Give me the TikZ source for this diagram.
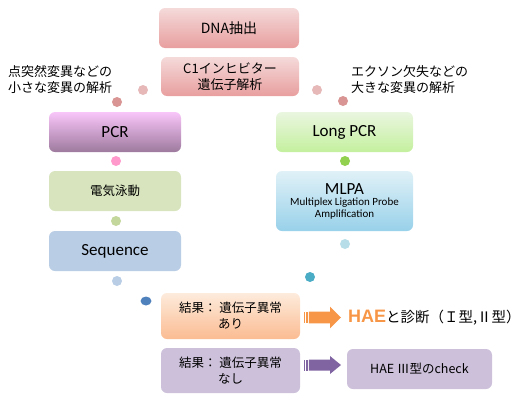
\documentclass[tikz,border=0pt]{standalone}
\usepackage{fontspec}
\setmainfont{Carlito}
\newfontfamily\jp{Noto Sans CJK JP}
\newfontfamily\haefont{Liberation Sans}
\usetikzlibrary{shapes, positioning}

\definecolor{dnaTop}{RGB}{245,218,218}
\definecolor{dnaBot}{RGB}{232,158,158}
\definecolor{pcrTop}{RGB}{249,198,249}
\definecolor{pcrBot}{RGB}{158,122,158}
\definecolor{lpcrTop}{RGB}{234,246,224}
\definecolor{lpcrBot}{RGB}{196,240,158}
\definecolor{denki}{RGB}{215,228,189}
\definecolor{mlpaTop}{RGB}{224,241,247}
\definecolor{mlpaBot}{RGB}{152,209,234}
\definecolor{seqc}{RGB}{185,205,229}
\definecolor{res1Top}{RGB}{253,235,220}
\definecolor{res1Bot}{RGB}{251,188,146}
\definecolor{lilac}{RGB}{204,192,218}
\definecolor{arrOrange}{RGB}{247,150,70}
\definecolor{arrPurple}{RGB}{128,100,162}

\tikzstyle{box} = [rectangle, rounded corners=6pt, minimum width=132pt, minimum height=40pt, inner sep=2pt, align=center, text=black]
\tikzstyle{dot} = [circle, minimum size=10pt, inner sep=0pt]
\tikzstyle{note} = [anchor=west, align=left, inner sep=0pt, font=\jp\fontsize{13}{16}\selectfont]
\tikzstyle{jtext} = [font=\jp\fontsize{12.5}{16}\selectfont]
\tikzstyle{etext} = [font=\fontsize{17}{20}\selectfont]

\begin{document}
\begin{tikzpicture}[x=1pt, y=-1pt]
  \useasboundingbox (0,0) rectangle (523,402);

  % 上段
  \node[box, minimum width=140pt, top color=dnaTop, bottom color=dnaBot, font=\jp\fontsize{14}{16}\selectfont] (dna) at (229,28) {DNA抽出};
  \node[box, minimum width=138pt, minimum height=39pt, top color=dnaTop, bottom color=dnaBot, font=\jp\fontsize{13}{16}\selectfont] (c1) at (230,76.5) {C1インヒビター\\遺伝子解析};

  % 注記
  \node[note] (small) at (8,80) {点突然変異などの\\小さな変異の解析};
  \node[note] (large) at (351,80) {エクソン欠失などの\\大きな変異の解析};

  % 左の列
  \node[box, top color=pcrTop, bottom color=pcrBot, etext] (pcr) at (115,132) {PCR};
  \node[box, fill=denki, jtext] (denki) at (115,191) {電気泳動};
  \node[box, fill=seqc, etext] (seq) at (115,251) {Sequence};

  % 右の列
  \node[box, minimum width=137pt, top color=lpcrTop, bottom color=lpcrBot, etext] (lpcr) at (344.5,132) {Long PCR};
  \node[box, minimum width=137pt, minimum height=60pt, top color=mlpaTop, bottom color=mlpaBot] (mlpa) at (344.5,201)
    {{\fontsize{17}{20}\selectfont MLPA}\\[-1pt]{\fontsize{11}{12.5}\selectfont Multiplex Ligation Probe}\\{\fontsize{11}{12.5}\selectfont Amplification}};

  % 結果
  \node[box, minimum width=139pt, minimum height=46pt, top color=res1Top, bottom color=res1Bot, jtext] (res1) at (230.5,316) {結果： 遺伝子異常\\あり};
  \node[box, minimum width=139pt, minimum height=45pt, fill=lilac, jtext] (res2) at (230.5,370.5) {結果： 遺伝子異常\\なし};
  \node[anchor=west, inner sep=0pt] (diag) at (348,318)
    {{\haefont\bfseries\fontsize{18}{20}\selectfont\color{arrOrange}HAE}{\jp\fontsize{14.5}{16}\selectfont と診断（Ｉ型,Ⅱ型）}};
  \node[box, minimum width=145pt, fill=lilac, jtext] (hae3) at (419.5,369) {HAE Ⅲ型のcheck};

  % 点
  \node[dot, fill={rgb,255:red,230;green,185;blue,184}] (d1) at (143,90) {};
  \node[dot, fill={rgb,255:red,217;green,149;blue,148}] (d2) at (117,102) {};
  \node[dot, fill={rgb,255:red,230;green,185;blue,184}] (d3) at (317,90) {};
  \node[dot, fill={rgb,255:red,217;green,149;blue,148}] (d4) at (343,101) {};
  \node[dot, fill={rgb,255:red,255;green,153;blue,204}] (d5) at (116,161) {};
  \node[dot, fill={rgb,255:red,146;green,208;blue,80}] (d6) at (345,161) {};
  \node[dot, fill={rgb,255:red,195;green,214;blue,155}] (d7) at (116,221) {};
  \node[dot, fill={rgb,255:red,183;green,222;blue,232}] (d8) at (345,244) {};
  \node[dot, fill={rgb,255:red,75;green,172;blue,198}] (d9) at (310,277) {};
  \node[dot, fill=seqc] (d10) at (117,281) {};
  \node[dot, ellipse, minimum width=11pt, minimum height=9pt, fill={rgb,255:red,79;green,129;blue,189}] (d11) at (146,301) {};

  % 矢印
  \fill[arrOrange] (308.8,311.7) -- (330,311.7) -- (330,306.7) -- (341,317.5) -- (330,328.3) -- (330,323.3) -- (308.8,323.3) -- cycle;
  \fill[arrOrange] (303.5,311.7) rectangle (305,323.3);
  \fill[arrOrange] (306.3,311.7) rectangle (307.6,323.3);

  \fill[arrPurple] (308.8,359.5) -- (330,359.5) -- (330,356) -- (341,365) -- (330,374) -- (330,370.5) -- (308.8,370.5) -- cycle;
  \fill[arrPurple] (303.5,359.5) rectangle (305,370.5);
  \fill[arrPurple] (306.3,359.5) rectangle (307.6,370.5);
\end{tikzpicture}
\end{document}
